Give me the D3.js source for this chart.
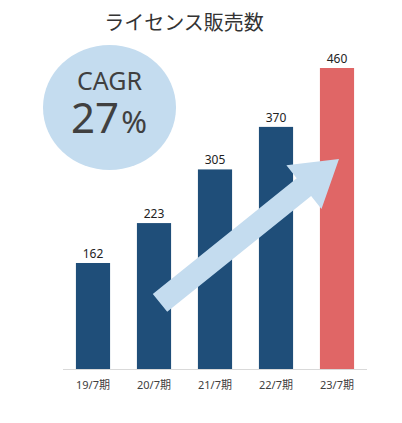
<!DOCTYPE html>
<html><head><meta charset="utf-8">
<script src="https://cdn.jsdelivr.net/npm/d3@7/dist/d3.min.js"></script>
<style>body{margin:0;background:#fff}</style>
</head><body><svg id="c" width="402" height="423"></svg>
<script>
const categories = ["19/7期","20/7期","21/7期","22/7期","23/7期"];
const values = [162,223,305,370,460];
const title = "ライセンス販売数";
const cagrLabel = "CAGR";
const cagrValue = "27";

const svg = d3.select("#c");
const font = "'Noto Sans','Noto Sans CJK JP',sans-serif";
const x = d3.scaleBand().domain(categories).range([62.5,367.5]).paddingInner(0.44).paddingOuter(0.22);
const y = d3.scaleLinear().domain([0,460]).range([369,68]);
const lightBlue = "#c4dcef";

svg.append("text").attr("x",184).attr("y",30).attr("text-anchor","middle")
  .attr("font-family","'Noto Sans CJK JP',sans-serif").attr("font-size",20).attr("fill","#333").text(title);

// bars
svg.selectAll("rect.bar").data(values).join("rect").attr("class","bar")
  .attr("x",(d,i)=>x(categories[i])).attr("width",x.bandwidth())
  .attr("y",d=>y(d)).attr("height",d=>y(0)-y(d))
  .attr("fill",(d,i)=>i===values.length-1?"#e06666":"#1f4e79");

svg.selectAll("text.val").data(values).join("text").attr("class","val")
  .attr("x",(d,i)=>x(categories[i])+x.bandwidth()/2).attr("y",d=>y(d)-5)
  .attr("text-anchor","middle").attr("font-family",font).attr("font-size",12).attr("fill","#222").text(d=>d);

// axis
svg.append("line").attr("x1",63).attr("x2",367).attr("y1",y(0)+0.5).attr("y2",y(0)+0.5).attr("stroke","#d9d9d9").attr("stroke-width",1);
svg.selectAll("text.cat").data(categories).join("text").attr("class","cat")
  .attr("x",d=>x(d)+x.bandwidth()/2).attr("y",389).attr("text-anchor","middle")
  .attr("font-family",font).attr("font-size",11).attr("fill","#404040").text(d=>d);

// ellipse badge
svg.append("ellipse").attr("cx",109.5).attr("cy",107.5).attr("rx",66.5).attr("ry",62.5).attr("fill",lightBlue);
const t = svg.append("text").attr("text-anchor","middle").attr("font-family",font).attr("fill","#404040");
t.append("tspan").attr("x",109.5).attr("y",90).attr("font-size",25).text(cagrLabel);
t.append("tspan").attr("x",109).attr("y",133).attr("font-size",42).text(cagrValue)
 .append("tspan").attr("font-size",31).attr("dx",2).text("%");

// arrow built from scale anchors
const tail = [x(categories[1])+x.bandwidth()/2+6, y(101)];
const tip = [x(categories[4])+x.bandwidth()/2+2, y(321)];
const dx = tip[0]-tail[0], dy = tip[1]-tail[1], L = Math.hypot(dx,dy);
const ux = dx/L, uy = dy/L, nx = -uy, ny = ux;
const sw = 11.5, hw = 28, hl = 45;
const hb = [tip[0]-ux*hl, tip[1]-uy*hl];
const pts = [
  [tail[0]+nx*sw, tail[1]+ny*sw],
  [hb[0]+nx*sw, hb[1]+ny*sw],
  [hb[0]+nx*hw, hb[1]+ny*hw],
  tip,
  [hb[0]-nx*hw, hb[1]-ny*hw],
  [hb[0]-nx*sw, hb[1]-ny*sw],
  [tail[0]-nx*sw, tail[1]-ny*sw]
];
svg.append("path").attr("d",d3.line()(pts)+"Z").attr("fill",lightBlue);
</script></body></html>
